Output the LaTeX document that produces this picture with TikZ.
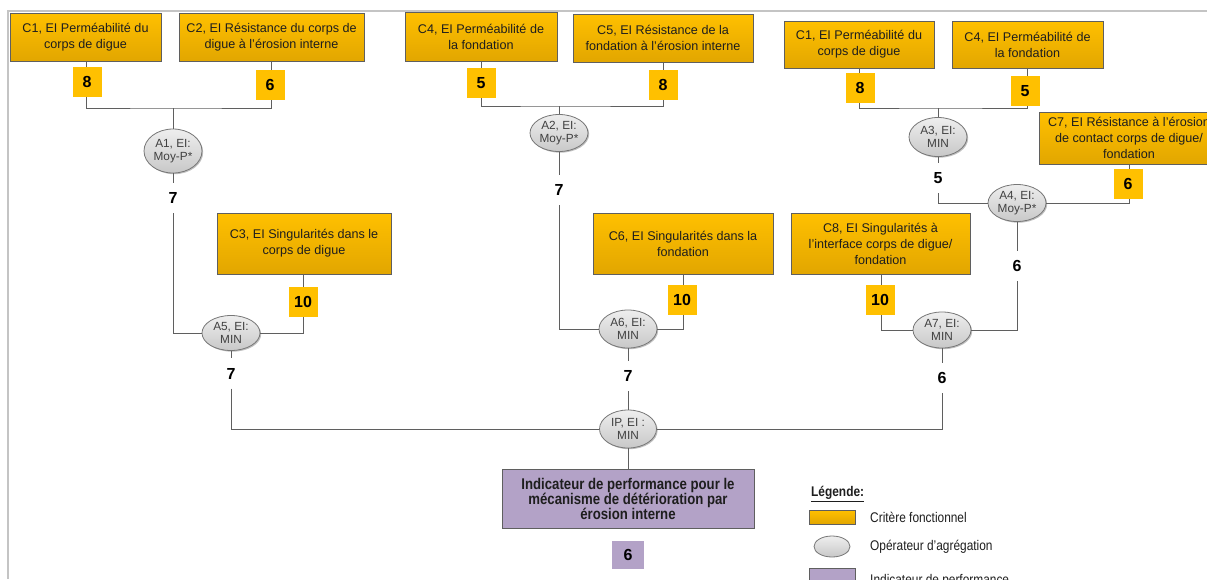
\documentclass[tikz,border=0pt]{standalone}
\usepackage{fontspec}
\setmainfont{Liberation Sans}
\newfontfamily\narrowfont[FakeStretch=0.85]{Liberation Sans}
\usetikzlibrary{shapes.geometric,shadows}
\definecolor{orA}{HTML}{FFC000}
\definecolor{orB}{HTML}{E2A600}
\definecolor{edge}{HTML}{5F5F5F}
\definecolor{framec}{HTML}{C4C4C4}
\definecolor{ellA}{HTML}{EEEEEE}
\definecolor{ellB}{HTML}{C8C8C8}
\definecolor{purp}{HTML}{B3A2C7}
\definecolor{txt}{HTML}{1E1E1E}
\tikzset{
  softshadow/.style={drop shadow={shadow xshift=1.2pt, shadow yshift=-1.2pt, opacity=0.25, fill=black}},
  crit/.style={draw=edge, line width=0.9pt, top color=orA, bottom color=orB, softshadow, inner sep=0pt, align=center, font=\fontsize{12.6}{16}\selectfont, text=txt},
  score/.style={fill=orA, minimum width=29pt, minimum height=30pt, inner sep=0pt, font=\fontsize{16}{16}\selectfont\bfseries, text=black},
  agg/.style={ellipse, draw=edge!85, line width=0.8pt, top color=ellA, bottom color=ellB, softshadow, inner sep=0pt, align=center, font=\fontsize{11.8}{13.2}\selectfont, text=txt!85, minimum width=58pt},
  val/.style={inner sep=0pt, minimum width=14pt, minimum height=30pt, font=\fontsize{16}{16}\selectfont\bfseries, text=black},
  link/.style={draw=edge, line width=1pt},
  legtext/.style={anchor=west, inner sep=0pt, font=\narrowfont\fontsize{14}{14}\selectfont, text=txt},
}
\begin{document}
\begin{tikzpicture}[x=1pt,y=-1pt]
\useasboundingbox (0,0) rectangle (1207,579);
\fill[white] (0,0) rectangle (1207,579);
\draw[framec, line width=2pt] (1207,11) -- (8,11) -- (8,579);

% ---------- criteria boxes ----------
\node[crit, minimum width=151pt, minimum height=48pt] (C1) at (85.5,37) {C1, EI Perméabilité du\\corps de digue};
\node[crit, minimum width=185pt, minimum height=48pt] (C2) at (271.5,37) {C2, EI Résistance du corps de\\digue à l’érosion interne};
\node[crit, minimum width=152pt, minimum height=49pt] (C4a) at (481,36.5) {C4, EI Perméabilité de\\la fondation};
\node[crit, minimum width=180pt, minimum height=48pt] (C5) at (663,38) {C5, EI Résistance de la\\fondation à l’érosion interne};
\node[crit, minimum width=150pt, minimum height=47pt] (C1b) at (859,44.5) {C1, EI Perméabilité du\\corps de digue};
\node[crit, minimum width=151pt, minimum height=47pt] (C4b) at (1027.5,44.5) {C4, EI Perméabilité de\\la fondation};
\node[crit, minimum width=180pt, minimum height=52pt] (C7) at (1129,138) {C7, EI Résistance à l’érosion\\de contact corps de digue/\\fondation};
\node[crit, minimum width=174pt, minimum height=61pt] (C3) at (304,243.5) {C3, EI Singularités dans le\\corps de digue};
\node[crit, minimum width=180pt, minimum height=61pt] (C6) at (683,243.5) {C6, EI Singularités dans la\\fondation};
\node[crit, minimum width=179pt, minimum height=61pt] (C8) at (880.5,243.5) {C8, EI Singularités à\\l’interface corps de digue/\\fondation};

% ---------- aggregation operators ----------
\node[agg, minimum height=44pt] (A1) at (173,151) {A1, EI:\\Moy-P*};
\node[agg, minimum height=37pt] (A2) at (559,133) {A2, EI:\\Moy-P*};
\node[agg, minimum height=39pt] (A3) at (938,137) {A3, EI:\\MIN};
\node[agg, minimum height=37pt] (A4) at (1017,203) {A4, EI:\\Moy-P*};
\node[agg, minimum height=35pt] (A5) at (231,333) {A5, EI:\\MIN};
\node[agg, minimum height=38pt] (A6) at (628,329) {A6, EI:\\MIN};
\node[agg, minimum height=36pt] (A7) at (942,330) {A7, EI:\\MIN};
\node[agg, minimum width=57pt, minimum height=38pt] (IP) at (628,429) {IP, EI :\\MIN};

% ---------- performance indicator ----------
\node[draw=edge, line width=0.9pt, fill=purp, softshadow, minimum width=252pt, minimum height=59pt, inner sep=0pt, align=center, font=\narrowfont\bfseries\fontsize{15.5}{15}\selectfont, text=txt] (PI) at (628,498.5) {Indicateur de performance pour le\\mécanisme de détérioration par\\érosion interne};

% ---------- intermediate values ----------
\node[val] (v1) at (173,198) {7};
\node[val] (v5) at (231,373.5) {7};
\node[val] (v2) at (559,190) {7};
\node[val] (v6) at (628,376) {7};
\node[val] (v3) at (938,178) {5};
\node[val] (v4) at (1017,266) {6};
\node[val] (v7) at (942,378) {6};

% ---------- connectors ----------
\coordinate (j1) at (173,108);
\coordinate (j2) at (559,106);
\coordinate (j3) at (938,108);
\draw[link] (C1.south -| 86,0) |- (j1) -| (C2.south -| 271,0);
\draw[link] (j1) -- (A1);
\draw[link] (A1) -- (v1);
\draw[link] (v1) |- (A5);
\draw[link] (C3.south -| 303,0) |- (A5);
\draw[link] (A5) -- (v5);
\draw[link] (v5) |- (IP);

\draw[link] (C4a.south -| 481,0) |- (j2) -| (C5.south -| 663,0);
\draw[link] (j2) -- (A2);
\draw[link] (A2) -- (v2);
\draw[link] (v2) |- (A6);
\draw[link] (C6.south -| 683,0) |- (A6);
\draw[link] (A6) -- (v6);
\draw[link] (v6) -- (IP);

\draw[link] (C1b.south -| 859,0) |- (j3) -| (C4b.south -| 1027,0);
\draw[link] (j3) -- (A3);
\draw[link] (A3) -- (v3);
\draw[link] (v3) |- (A4);
\draw[link] (C7.south -| 1129,0) |- (A4);
\draw[link] (A4) -- (v4);
\draw[link] (v4) |- (A7);
\draw[link] (C8.south -| 881,0) |- (A7);
\draw[link] (A7) -- (v7);
\draw[link] (v7) |- (IP);
\draw[link] (IP) -- (PI);

% ---------- score squares ----------
\node[score] (s1) at (87,82) {8};
\node[score] (s2) at (270,85) {6};
\node[score] (s4a) at (481,83) {5};
\node[score] (s5) at (663,85) {8};
\node[score] (s1b) at (860,88) {8};
\node[score] (s4b) at (1025,91) {5};
\node[score] (s7) at (1128,184) {6};
\node[score] (s3) at (303,302) {10};
\node[score] (s6) at (682,300) {10};
\node[score] (s8) at (880,300) {10};
\node[score, fill=purp, minimum width=32pt, minimum height=28pt] (ps) at (628,555) {6};

% ---------- legend ----------
\node[legtext, font=\narrowfont\bfseries\fontsize{14}{14}\selectfont] (lg) at (811,494) {\underline{Légende:}};
\node[draw=edge, line width=0.8pt, top color=orA, bottom color=orB, minimum width=46pt, minimum height=14pt, inner sep=0pt] (l1) at (832,517) {};
\node[legtext] (t1) at (870,517) {Critère fonctionnel};
\node[ellipse, draw=edge!85, line width=0.8pt, top color=ellA, bottom color=ellB, minimum width=36pt, minimum height=21pt, inner sep=0pt] (l2) at (832,546.5) {};
\node[legtext] (t2) at (870,547) {Opérateur d’agrégation};
\node[draw=edge, line width=0.8pt, fill=purp, minimum width=46pt, minimum height=15pt, inner sep=0pt] (l3) at (832,575.5) {};
\node[legtext] (t3) at (870,581) {Indicateur de performance};
\end{tikzpicture}
\end{document}
